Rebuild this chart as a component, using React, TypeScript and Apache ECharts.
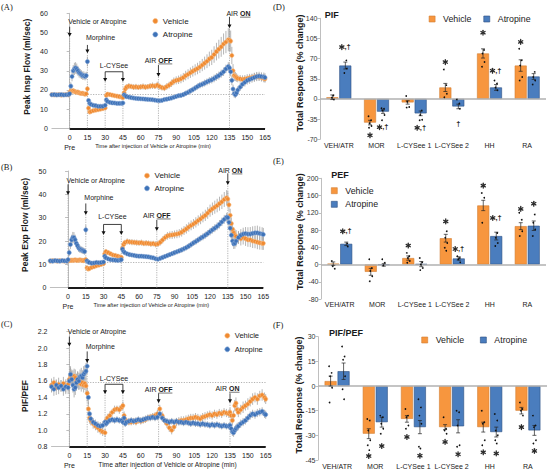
import React, { useEffect, useRef } from 'react';
import * as echarts from 'echarts';

// ---------- time-course data (minutes after injection) ----------
const minutes = [
  -15, -13, -11, -9, -7, -5, -3, -1,
  0, 1, 2, 3, 4, 5, 6, 7, 8, 9, 10, 11, 12, 13, 14, 15,
  16, 17, 18, 20, 22, 24, 26, 28, 30,
  31, 32, 34, 36, 38, 40, 42, 44, 45,
  46, 47, 48, 50, 52, 54, 56, 58, 60, 62, 64, 66, 68, 70, 72, 74, 76, 78, 80, 82, 84, 86, 88,
  90, 92, 94, 96, 98, 100, 102, 104, 106, 108, 110, 112, 114, 116, 118, 120, 122, 124, 126, 128, 130, 132, 134,
  135, 136, 137, 138, 139, 140, 141, 142,
  144, 146, 148, 150, 152, 154, 156, 158, 160, 162, 164, 165,
];

const pifVehicle = [
  17.6, 17.4, 17.5, 17.6, 17.3, 17.5, 17.6, 17.4,
  18.6, 19.5, 19.4, 19.6, 19.3, 19.0, 18.8, 18.9, 18.5, 18.3, 18.2, 18.3, 18.0, 17.8, 18.0, 20.6,
  10.5, 8.5, 8.8, 9.2, 9.5, 9.7, 10.0, 10.3, 10.6,
  17.2, 17.8, 17.6, 17.3, 17.0, 16.8, 16.5, 16.3, 16.0,
  18.5, 20.5, 21.5, 22.0, 21.8, 21.5, 21.6, 21.4, 21.6, 21.8, 21.5, 21.7, 22.0, 22.2, 22.0, 22.5, 21.8, 21.2, 21.0, 21.8, 22.5, 23.5, 24.5,
  25.0, 25.3, 25.8, 26.5, 27.5, 28.2, 29.0, 29.8, 30.5, 31.2, 32.0, 33.0, 34.0, 35.0, 36.2, 37.0, 38.5, 40.0, 41.3, 42.5, 44.0, 45.0, 46.2,
  46.0, 45.5, 38.0, 30.0, 27.5, 27.0, 26.5, 26.0,
  25.8, 25.5, 25.8, 26.0, 26.3, 26.5, 26.8, 27.0, 26.8, 26.5, 26.0, 25.8,
];
const pifVehicleSem = [
  0.8, 0.7, 0.9, 0.8, 0.7, 0.8, 0.9, 0.8,
  1.0, 1.2, 1.1, 1.2, 1.0, 1.1, 1.0, 1.2, 1.1, 1.0, 1.0, 1.1, 1.0, 0.9, 1.0, 1.6,
  1.2, 1.0, 0.9, 0.9, 0.8, 0.9, 0.8, 0.9, 0.9,
  1.0, 0.9, 0.9, 0.8, 0.9, 0.8, 0.9, 0.8, 0.9,
  1.4, 1.6, 1.5, 1.6, 1.4, 1.5, 1.6, 1.4, 1.5, 1.6, 1.5, 1.4, 1.6, 1.7, 1.5, 1.8, 1.6, 1.5, 1.6, 1.7, 1.8, 1.9, 2.0,
  2.1, 2.2, 2.3, 2.4, 2.5, 2.6, 2.7, 2.8, 2.9, 3.0, 3.1, 3.2, 3.4, 3.6, 3.8, 4.0, 4.3, 4.6, 4.9, 5.2, 5.5, 5.8, 6.0,
  6.0, 5.5, 4.5, 3.5, 2.8, 2.4, 2.2, 2.0,
  2.0, 2.1, 2.0, 2.2, 2.1, 2.0, 2.2, 2.1, 2.0, 2.1, 2.0, 2.0,
];
const pifAtropine = [
  17.5, 17.6, 17.4, 17.5, 17.6, 17.4, 17.5, 17.6,
  18.0, 22.0, 27.0, 30.0, 31.0, 31.5, 31.0, 30.0, 29.0, 28.5, 28.0, 27.5, 27.5, 27.0, 27.5, 34.8,
  14.5, 13.0, 12.5, 12.0, 11.8, 11.5, 11.5, 11.5, 12.0,
  14.8, 14.0, 13.5, 13.3, 13.2, 13.0, 13.0, 13.0, 13.2,
  17.5, 17.0, 16.5, 16.3, 16.0, 15.8, 15.6, 15.5, 15.4, 15.3, 15.2, 15.1, 15.0, 14.9, 14.7, 14.5, 14.4, 14.6, 15.0, 15.2, 15.5, 15.8, 16.2,
  16.6, 17.0, 17.2, 17.6, 18.2, 18.8, 19.5, 20.2, 21.0, 21.8, 22.5, 23.0, 23.6, 24.2, 24.8, 25.3, 26.0, 26.8, 27.5, 28.5, 29.5, 31.0, 32.2,
  31.5, 29.5, 25.0, 20.5, 18.0, 17.5, 18.5, 20.0,
  21.5, 23.0, 24.0, 25.0, 25.5, 26.0, 26.5, 27.0, 27.2, 27.0, 26.8, 26.5,
];
const pifAtropineSem = [
  0.7, 0.8, 0.7, 0.8, 0.7, 0.8, 0.7, 0.8,
  1.0, 2.0, 2.5, 3.0, 3.2, 3.0, 2.8, 2.6, 2.5, 2.4, 2.3, 2.2, 2.2, 2.0, 2.0, 2.5,
  1.2, 1.0, 0.9, 0.9, 0.8, 0.9, 0.8, 0.9, 0.9,
  1.0, 0.9, 0.8, 0.8, 0.8, 0.7, 0.8, 0.7, 0.8,
  1.0, 0.9, 0.9, 0.9, 0.8, 0.9, 0.8, 0.9, 0.8, 0.9, 0.8, 0.9, 0.8, 0.9, 0.8, 0.9, 0.8, 0.9, 0.9, 1.0, 1.0, 1.1, 1.1,
  1.2, 1.2, 1.3, 1.3, 1.4, 1.4, 1.5, 1.5, 1.6, 1.6, 1.7, 1.7, 1.8, 1.8, 1.9, 1.9, 2.0, 2.0, 2.1, 2.1, 2.2, 2.2, 2.3,
  2.3, 2.4, 2.5, 2.3, 2.0, 1.8, 1.8, 1.9,
  2.0, 2.1, 2.2, 2.2, 2.3, 2.2, 2.3, 2.4, 2.3, 2.2, 2.3, 2.2,
];

const pefVehicle = [
  11.4, 11.6, 11.5, 11.4, 11.6, 11.5, 11.4, 11.5,
  11.5, 11.6, 11.7, 11.8, 11.7, 11.8, 11.9, 11.8, 11.7, 11.8, 11.9, 11.8, 11.7, 11.6, 11.8, 12.0,
  8.5, 8.0, 8.2, 8.7, 9.0, 9.4, 9.7, 10.0, 10.3,
  14.5, 15.5, 15.0, 14.5, 14.0, 13.8, 13.5, 13.2, 13.0,
  17.0, 18.5, 19.3, 19.8, 19.6, 19.5, 19.4, 19.3, 19.2, 19.3, 19.0, 19.1, 19.0, 18.8, 18.9, 18.6, 18.8, 19.5, 20.5, 21.5, 22.2, 22.5, 22.6,
  22.8, 23.0, 23.3, 23.8, 24.5, 25.2, 26.0, 26.7, 27.3, 28.0, 28.8, 29.5, 30.3, 31.0, 32.0, 33.0, 33.8, 34.5, 35.2, 36.0, 36.8, 37.8, 38.5,
  38.0, 35.5, 31.0, 27.5, 25.0, 23.5, 22.5, 22.0,
  21.5, 21.0, 21.5, 21.0, 20.5, 20.5, 20.0, 19.8, 19.5, 19.2, 19.0, 19.0,
];
const pefVehicleSem = [
  0.6, 0.7, 0.6, 0.6, 0.7, 0.6, 0.6, 0.7,
  0.7, 0.8, 0.7, 0.8, 0.7, 0.8, 0.7, 0.8, 0.7, 0.8, 0.7, 0.8, 0.7, 0.8, 0.7, 0.9,
  0.9, 0.8, 0.8, 0.7, 0.7, 0.8, 0.7, 0.8, 0.8,
  1.0, 1.1, 1.0, 0.9, 0.9, 0.8, 0.9, 0.8, 0.9,
  1.2, 1.3, 1.2, 1.3, 1.2, 1.3, 1.2, 1.3, 1.2, 1.3, 1.2, 1.3, 1.2, 1.3, 1.2, 1.3, 1.4, 1.4, 1.5, 1.5, 1.6, 1.6, 1.7,
  1.7, 1.8, 1.8, 1.9, 1.9, 2.0, 2.0, 2.1, 2.1, 2.2, 2.2, 2.3, 2.3, 2.4, 2.5, 2.6, 2.7, 2.8, 2.9, 3.0, 3.1, 3.2, 3.3,
  3.3, 3.0, 2.8, 2.6, 2.5, 2.5, 2.6, 2.7,
  2.8, 2.9, 3.0, 3.1, 3.0, 3.1, 3.0, 2.9, 3.0, 2.9, 2.8, 2.8,
];
const pefAtropine = [
  11.5, 11.4, 11.6, 11.5, 11.4, 11.6, 11.5, 11.4,
  12.0, 15.0, 18.5, 20.5, 21.5, 21.5, 20.5, 19.0, 18.0, 17.0, 16.5, 16.3, 16.0, 15.8, 15.5, 24.8,
  11.5, 11.0, 10.8, 10.5, 10.6, 10.8, 10.7, 10.8, 11.0,
  13.5, 12.8, 12.3, 12.0, 11.9, 11.8, 11.7, 11.8, 12.0,
  16.5, 15.5, 15.0, 14.5, 14.2, 14.0, 13.8, 13.6, 13.5, 13.5, 13.4, 13.3, 13.2, 13.0, 12.8, 12.4, 12.2, 12.6, 13.0, 13.4, 13.8, 14.2, 14.6,
  15.0, 15.4, 15.8, 16.2, 16.7, 17.2, 17.8, 18.5, 19.2, 19.8, 20.5, 21.2, 21.8, 22.5, 23.2, 24.0, 24.8, 25.5, 26.3, 27.2, 28.2, 29.3, 30.2,
  30.0, 28.0, 25.5, 22.5, 20.0, 18.8, 19.0, 20.0,
  21.5, 22.5, 23.0, 23.2, 23.0, 23.0, 23.3, 23.5, 23.5, 23.2, 23.0, 22.8,
];
const pefAtropineSem = [
  0.6, 0.6, 0.7, 0.6, 0.6, 0.7, 0.6, 0.6,
  0.8, 1.5, 2.0, 2.2, 2.4, 2.3, 2.2, 2.0, 1.8, 1.7, 1.6, 1.5, 1.5, 1.4, 1.4, 2.0,
  0.9, 0.8, 0.8, 0.7, 0.7, 0.7, 0.7, 0.7, 0.8,
  0.9, 0.8, 0.8, 0.7, 0.7, 0.7, 0.7, 0.7, 0.8,
  1.0, 0.9, 0.9, 0.8, 0.8, 0.8, 0.8, 0.8, 0.8, 0.8, 0.8, 0.8, 0.8, 0.8, 0.8, 0.8, 0.8, 0.9, 0.9, 0.9, 1.0, 1.0, 1.0,
  1.1, 1.1, 1.1, 1.2, 1.2, 1.2, 1.3, 1.3, 1.3, 1.4, 1.4, 1.4, 1.5, 1.5, 1.5, 1.6, 1.6, 1.7, 1.7, 1.8, 1.8, 1.9, 1.9,
  1.9, 1.9, 2.0, 2.1, 2.2, 2.2, 2.3, 2.4,
  2.5, 2.6, 2.7, 2.8, 2.9, 3.0, 3.0, 3.0, 3.1, 3.0, 2.9, 2.8,
];

const ratioVehicle = [
  1.55, 1.58, 1.52, 1.56, 1.54, 1.57, 1.53, 1.56,
  1.62, 1.66, 1.65, 1.63, 1.66, 1.64, 1.60, 1.62, 1.58, 1.60, 1.56, 1.58, 1.55, 1.57, 1.54, 1.45,
  1.26, 1.15, 1.12, 1.08, 1.05, 1.03, 1.00, 0.98, 0.97,
  1.12, 1.15, 1.18, 1.22, 1.25, 1.26, 1.25, 1.28, 1.30,
  1.18, 1.13, 1.11, 1.10, 1.10, 1.11, 1.10, 1.12, 1.11, 1.12, 1.13, 1.15, 1.16, 1.17, 1.18, 1.20, 1.26, 1.18, 1.12, 1.08, 1.03, 1.00, 1.04,
  1.10, 1.11, 1.12, 1.12, 1.13, 1.14, 1.15, 1.15, 1.16, 1.15, 1.14, 1.16, 1.17, 1.18, 1.19, 1.18, 1.20, 1.19, 1.21, 1.20, 1.22, 1.21, 1.20,
  1.22, 1.18, 1.12, 1.18, 1.30, 1.33, 1.25, 1.22,
  1.25, 1.28, 1.30, 1.32, 1.35, 1.38, 1.40, 1.38, 1.42, 1.43, 1.40, 1.38,
];
const ratioVehicleSem = [
  0.08, 0.07, 0.09, 0.08, 0.07, 0.08, 0.09, 0.08,
  0.09, 0.10, 0.09, 0.10, 0.09, 0.10, 0.09, 0.10, 0.09, 0.10, 0.09, 0.08, 0.09, 0.08, 0.09, 0.10,
  0.08, 0.07, 0.06, 0.06, 0.05, 0.06, 0.05, 0.05, 0.05,
  0.05, 0.05, 0.05, 0.04, 0.05, 0.04, 0.05, 0.04, 0.05,
  0.05, 0.04, 0.04, 0.04, 0.04, 0.04, 0.04, 0.04, 0.04, 0.04, 0.04, 0.04, 0.04, 0.04, 0.04, 0.05, 0.05, 0.05, 0.05, 0.05, 0.05, 0.05, 0.05,
  0.05, 0.05, 0.05, 0.05, 0.05, 0.05, 0.05, 0.05, 0.05, 0.05, 0.05, 0.05, 0.05, 0.05, 0.05, 0.05, 0.05, 0.05, 0.05, 0.05, 0.05, 0.05, 0.05,
  0.05, 0.05, 0.06, 0.06, 0.07, 0.07, 0.06, 0.06,
  0.06, 0.07, 0.06, 0.07, 0.06, 0.07, 0.06, 0.07, 0.06, 0.07, 0.06, 0.06,
];
const ratioAtropine = [
  1.53, 1.50, 1.55, 1.52, 1.54, 1.50, 1.53, 1.52,
  1.60, 1.68, 1.62, 1.55, 1.50, 1.52, 1.58, 1.62, 1.60, 1.65, 1.66, 1.64, 1.68, 1.70, 1.72, 1.78,
  1.40, 1.20, 1.14, 1.10, 1.08, 1.06, 1.05, 1.06, 1.10,
  1.08, 1.10, 1.12, 1.13, 1.12, 1.13, 1.12, 1.12, 1.10,
  1.15, 1.08, 1.10, 1.11, 1.12, 1.11, 1.12, 1.13, 1.12, 1.13, 1.14, 1.15, 1.15, 1.16, 1.15, 1.16, 1.20, 1.15, 1.12, 1.11, 1.10, 1.11, 1.10,
  1.11, 1.10, 1.10, 1.09, 1.10, 1.09, 1.08, 1.09, 1.08, 1.08, 1.07, 1.08, 1.07, 1.07, 1.06, 1.07, 1.06, 1.07, 1.06, 1.05, 1.06, 1.05, 1.05,
  1.06, 1.02, 0.98, 0.97, 1.00, 1.02, 1.04, 1.05,
  1.08, 1.10, 1.12, 1.15, 1.18, 1.20, 1.19, 1.21, 1.22, 1.23, 1.20, 1.19,
];
const ratioAtropineSem = [
  0.07, 0.08, 0.07, 0.08, 0.07, 0.08, 0.07, 0.08,
  0.09, 0.10, 0.10, 0.09, 0.10, 0.09, 0.10, 0.09, 0.10, 0.09, 0.10, 0.09, 0.10, 0.09, 0.10, 0.09,
  0.08, 0.07, 0.06, 0.05, 0.05, 0.05, 0.05, 0.05, 0.05,
  0.04, 0.04, 0.04, 0.04, 0.04, 0.04, 0.04, 0.04, 0.04,
  0.04, 0.04, 0.04, 0.04, 0.04, 0.04, 0.04, 0.04, 0.04, 0.04, 0.04, 0.04, 0.04, 0.04, 0.04, 0.04, 0.04, 0.04, 0.04, 0.04, 0.04, 0.04, 0.04,
  0.04, 0.04, 0.04, 0.04, 0.04, 0.04, 0.04, 0.04, 0.04, 0.04, 0.04, 0.04, 0.04, 0.04, 0.04, 0.04, 0.04, 0.04, 0.04, 0.04, 0.04, 0.04, 0.04,
  0.04, 0.05, 0.05, 0.05, 0.05, 0.05, 0.05, 0.05,
  0.05, 0.05, 0.05, 0.05, 0.05, 0.05, 0.05, 0.05, 0.05, 0.05, 0.05, 0.05,
];

// ---------- events ----------
const eventLabels = ['Vehicle or Atropine', 'Morphine', 'L-CYSee', 'AIR OFF', 'AIR ON'];
const eventMinutes = [0, 15, 30, 75, 135];
const lcyseeEndMinute = 45;
// per panel: [label height, arrow start, arrow tip] in data units
const eventHeightsPif = [[55.6, 53.0, 47.8], [47.5, 43.5, 39.1], [32.7, 29.5, 24.3], [35.6, 33.0, 26.9], [60.0, 58.2, 52.2]];
const eventHeightsPef = [[46.1, 44.3, 39.7], [38.7, 36.1, 31.1], [30.4, 27.1, 22.6], [31.1, 29.0, 24.3], [50.4, 49.0, 44.0]];
const eventHeightsRatio = [[2.2, 2.14, 2.02], [2.02, 1.96, 1.82], [1.63, 1.56, 1.44], [1.5, 1.45, 1.33], [1.51, 1.45, 1.33]];
const baselinePif = 17.9;
const baselinePef = 11.1;
const baselineRatio = 1.58;

// ---------- total responses ----------
const responseCategories = ['VEH/ATR', 'MOR', 'L-CYSee 1', 'L-CYSee 2', 'HH', 'RA'];

const pifTotalVehicle = [3, -41, -6, 20, 79, 58];
const pifTotalVehicleSem = [4, 4, 3, 7, 8, 10];
const pifTotalAtropine = [58, -22, -25, -13, 20, 39];
const pifTotalAtropineSem = [6, 3, 4, 4, 5, 5];
const pifVehicleRats = [[15, 6, 2, -1, -13], [-30, -37, -42, -47, -50], [5, -2, -5, -14, -15], [51, 24, 18, 9, 3], [102, 85, 79, 64, 56], [87, 67, 58, 38, 32]];
const pifAtropineRats = [[71, 67, 60, 53, 45], [-16, -17, -20, -28, -37], [-13, -20, -28, -36, -37], [-1, -8, -13, -17, -23], [32, 27, 20, 15, 8], [60, 47, 38, 32, 25]];
// [category, group (0 vehicle / 1 atropine), value, text]
const pifMarks = [[0, 1, 90, '✱,†'], [1, 0, -63, '✱'], [1, 1, -49, '✱,†'], [2, 1, -50, '✱,†'], [3, 0, 64, '✱'], [3, 1, -42, '†'], [4, 0, 115, '✱'], [4, 1, 49, '✱,†'], [5, 0, 99, '✱']];

const pefTotalVehicle = [2, -17, 15, 61, 137, 89];
const pefTotalVehicleSem = [4, 8, 5, 9, 12, 8];
const pefTotalAtropine = [48, -1, 1, 14, 66, 90];
const pefTotalAtropineSem = [4, 3, 6, 4, 9, 11];
const pefVehicleRats = [[8, 2, -4, -10], [12, -8, -15, -27, -39], [27, 19, 15, 8, 4], [93, 77, 62, 50, 39, 32], [166, 155, 135, 128, 97], [120, 104, 93, 77, 66]];
const pefAtropineRats = [[58, 49, 44, 42], [12, 4, -2, -5, -12], [15, 5, 0, -8, -13], [19, 15, 12, 5], [93, 73, 62, 50, 43], [128, 116, 97, 81, 66]];
const pefMarks = [[0, 1, 77, '✱,†'], [2, 0, 44, '✱'], [3, 0, 100, '✱'], [3, 1, 36, '✱,†'], [4, 0, 183, '✱'], [4, 1, 108, '✱,†'], [5, 0, 129, '✱'], [5, 1, 141, '✱']];

const ratioTotalVehicle = [3, -29, -20, -25, -25, -15];
const ratioTotalVehicleSem = [3, 3, 2, 1.5, 3, 2];
const ratioTotalAtropine = [9, -22, -25, -24.5, -28, -27];
const ratioTotalAtropineSem = [5, 3, 4, 4, 3, 3];
const ratioVehicleRats = [[12, 8, 6, -1, -10], [-20, -21, -27, -33, -36, -39], [-14, -18, -19, -24, -26], [-19, -26, -27, -29], [-15, -22, -23, -33, -36], [-10, -14, -15, -18]];
const ratioAtropineRats = [[24, 18, 16, 6, -2, -8], [-18, -19, -23, -26, -29], [-8, -13, -18, -23, -37, -38], [-15, -16, -24, -36, -37], [-17, -21, -27, -30, -33, -35], [-18, -24, -25, -33, -35]];
const ratioMarks = [[1, 0, -42.6, '✱'], [1, 1, -36.5, '✱'], [2, 0, -31, '✱'], [2, 1, -42.4, '✱'], [3, 0, -34, '✱'], [3, 1, -41.5, '✱'], [4, 0, -40.3, '✱'], [4, 1, -41, '✱'], [5, 0, -25, '✱'], [5, 1, -39.5, '✱']];

// ---------- styling ----------
const FONT = "'Liberation Sans', Arial, Helvetica, sans-serif";
const SERIF = "'Liberation Serif', 'Times New Roman', serif";
const ORANGE = '#F08A30';
const ORANGE_EDGE = '#F7BE88';
const BLUE = '#3D72B8';
const BLUE_EDGE = '#8AAAD6';
const BAR_ORANGE = '#F7963E';
const BAR_ORANGE_EDGE = '#D27E33';
const BAR_BLUE = '#4A7DBE';
const BAR_BLUE_EDGE = '#2B4F82';
const TEXT = '#1a1a1a';
const AXIS_GREY = '#bfbfbf';
const JITTER = [-1.5, 1.0, -0.5, 1.5, -1.0, 0.5];
const BAR_OFFSET = 6.5;

let measureCtx: CanvasRenderingContext2D | null = null;
function textWidth(t: string, size: number, weight: string) {
  if (!measureCtx) measureCtx = document.createElement('canvas').getContext('2d');
  if (!measureCtx) return t.length * size * 0.55;
  measureCtx.font = `${weight} ${size}px ${FONT}`;
  return measureCtx.measureText(t).width;
}

function labelEls(label: string, x: number, y: number, align: string, size: number) {
  const m = label.match(/^(AIR )(ON|OFF)$/);
  const base = { fontSize: size, fontFamily: FONT, fill: TEXT, verticalAlign: 'middle' };
  if (!m) return [{ type: 'text', x, y, style: { ...base, text: label, align } }];
  const w1 = textWidth(m[1], size, 'normal');
  const w2 = textWidth(m[2], size, 'bold');
  const x0 = align === 'center' ? x - (w1 + w2) / 2 : x;
  return [
    { type: 'text', x: x0, y, style: { ...base, text: m[1], align: 'left' } },
    { type: 'text', x: x0 + w1, y, style: { ...base, text: m[2], fontWeight: 'bold', align: 'left' } },
    { type: 'line', shape: { x1: x0 + w1, y1: y + size * 0.55, x2: x0 + w1 + w2, y2: y + size * 0.55 }, style: { stroke: TEXT, lineWidth: 0.6 } },
  ];
}

function whisker(g: number, vals: number[], sems: number[]) {
  return {
    type: 'custom', xAxisIndex: g, yAxisIndex: g, silent: true, z: 1,
    data: minutes.map((t, i) => [t, vals[i], sems[i]]),
    encode: { x: 0, y: 1 },
    renderItem: (params: any, api: any) => {
      const t = api.value(0), v = api.value(1), s = api.value(2);
      const a = api.coord([t, v - s]);
      const b = api.coord([t, v + s]);
      return { type: 'line', shape: { x1: a[0], y1: a[1], x2: b[0], y2: b[1] }, style: { stroke: '#a3a3a3', lineWidth: 0.8 } };
    },
  };
}

function annotations(g: number, heights: number[][], yMin: number, onShift: number, size: number) {
  return {
    type: 'custom', xAxisIndex: g, yAxisIndex: g, silent: true, z: 2, clip: false,
    data: eventMinutes.map((t, i) => [t, heights[i][0], heights[i][1], heights[i][2]]),
    encode: { x: 0, y: 1 },
    renderItem: (params: any, api: any) => {
      const i = params.dataIndex;
      const t = api.value(0);
      const p = api.coord([t, api.value(1)]);
      const top = api.coord([t, api.value(2)])[1];
      const tip = api.coord([t, api.value(3)])[1];
      const base = api.coord([t, yMin])[1];
      const children: any[] = [];
      const arrowAt = (x: number) => {
        children.push({ type: 'line', shape: { x1: x, y1: base, x2: x, y2: tip }, style: { stroke: '#a0a0a0', lineWidth: 0.8, lineDash: [1.2, 1.2] } });
        children.push({ type: 'line', shape: { x1: x, y1: top, x2: x, y2: tip - 3 }, style: { stroke: '#111', lineWidth: 0.8 } });
        children.push({ type: 'polygon', shape: { points: [[x - 2, tip - 3.8], [x + 2, tip - 3.8], [x, tip]] }, style: { fill: '#111' } });
      };
      if (i === 2) {
        const x2 = api.coord([lcyseeEndMinute, api.value(2)])[0];
        arrowAt(p[0]);
        arrowAt(x2);
        children.push({ type: 'line', shape: { x1: p[0], y1: top, x2: x2, y2: top }, style: { stroke: '#111', lineWidth: 0.8 } });
        children.push(...labelEls(eventLabels[i], (p[0] + x2) / 2, p[1], 'center', size));
      } else {
        arrowAt(p[0]);
        if (i < 2) children.push(...labelEls(eventLabels[i], p[0] - 1.5, p[1], 'left', size));
        else if (i === 3) children.push(...labelEls(eventLabels[i], p[0], p[1], 'center', size));
        else children.push(...labelEls(eventLabels[i], p[0] + onShift, p[1], 'center', size));
      }
      return { type: 'group', children };
    },
  };
}

function timeSeries(g: number, veh: number[], vehSem: number[], atr: number[], atrSem: number[], heights: number[][], baseline: number, yMin: number, onShift: number, annSize: number) {
  return [
    whisker(g, veh, vehSem),
    whisker(g, atr, atrSem),
    {
      type: 'scatter', name: 'Vehicle', xAxisIndex: g, yAxisIndex: g, z: 3,
      data: minutes.map((t, i) => [t, veh[i]]),
      symbol: 'circle', symbolSize: 4.2,
      itemStyle: { color: ORANGE, borderColor: ORANGE_EDGE, borderWidth: 0.6, opacity: 1 },
      markLine: {
        silent: true, z: 2, symbol: ['none', 'none'], label: { show: false }, animation: false,
        data: [
          [{ coord: [0, baseline], lineStyle: { type: [1.2, 1.4], color: '#a0a0a0', width: 0.8 } }, { coord: [165, baseline] }],
          [{ coord: [0, yMin], lineStyle: { type: 'solid', color: '#1a1a1a', width: 2.2 } }, { coord: [165, yMin] }],
        ],
      },
    },
    {
      type: 'scatter', name: 'Atropine', xAxisIndex: g, yAxisIndex: g, z: 4,
      data: minutes.map((t, i) => [t, atr[i]]),
      symbol: 'circle', symbolSize: 4.2,
      itemStyle: { color: BLUE, borderColor: BLUE_EDGE, borderWidth: 0.6, opacity: 1 },
    },
    annotations(g, heights, yMin, onShift, annSize),
  ];
}

function barErrors(g: number, vals: number[], sems: number[], off: number) {
  return {
    type: 'custom', xAxisIndex: g, yAxisIndex: g, silent: true, z: 4,
    data: vals.map((v, i) => [i, v, sems[i]]),
    encode: { x: 0, y: 1 },
    renderItem: (params: any, api: any) => {
      const i = api.value(0), v = api.value(1), s = api.value(2);
      const x = api.coord([i, v])[0] + off;
      const y1 = api.coord([i, v + s])[1];
      const y2 = api.coord([i, v - s])[1];
      const st = { stroke: '#222', lineWidth: 0.7 };
      return {
        type: 'group', children: [
          { type: 'line', shape: { x1: x, y1, x2: x, y2 }, style: st },
          { type: 'line', shape: { x1: x - 2, y1, x2: x + 2, y2: y1 }, style: st },
          { type: 'line', shape: { x1: x - 2, y1: y2, x2: x + 2, y2 }, style: st },
        ],
      };
    },
  };
}

function barDots(g: number, rats: number[][], off: number) {
  const data: number[][] = [];
  rats.forEach((arr, i) => arr.forEach((v, k) => data.push([i, v, k])));
  return {
    type: 'custom', xAxisIndex: g, yAxisIndex: g, silent: true, z: 5,
    data, encode: { x: 0, y: 1 },
    renderItem: (params: any, api: any) => {
      const i = api.value(0), v = api.value(1), k = api.value(2);
      const c = api.coord([i, v]);
      return { type: 'circle', shape: { cx: c[0] + off + JITTER[k % JITTER.length], cy: c[1], r: 0.85 }, style: { fill: '#111' } };
    },
  };
}

// six-spoke heavy asterisk drawn with lines
function starEls(cx: number, cy: number, r: number) {
  const els: any[] = [];
  for (let a = 0; a < 3; a++) {
    const ang = Math.PI / 2 + (a * Math.PI) / 3;
    const dx = Math.cos(ang) * r, dy = Math.sin(ang) * r;
    els.push({ type: 'line', shape: { x1: cx - dx, y1: cy - dy, x2: cx + dx, y2: cy + dy }, style: { stroke: '#2a2a2a', lineWidth: 1.3, lineCap: 'round' } });
  }
  return els;
}

function barMarks(g: number, marks: any[]) {
  return {
    type: 'custom', xAxisIndex: g, yAxisIndex: g, silent: true, z: 6, clip: false,
    data: marks.map((m) => [m[0], m[2], m[1]]), encode: { x: 0, y: 1 },
    renderItem: (params: any, api: any) => {
      const i = api.value(0), y = api.value(1), grp = api.value(2);
      const c = api.coord([i, y]);
      const cx = c[0] + (grp ? BAR_OFFSET : -BAR_OFFSET);
      const label = String(marks[params.dataIndex][3]);
      const hasStar = label.startsWith('✱');
      const rest = hasStar ? label.slice(1) : label;
      const children: any[] = [];
      const tStyle = { fontSize: 7.5, fontFamily: FONT, fontWeight: 'bold', fill: '#2a2a2a', verticalAlign: 'middle' };
      if (hasStar && rest) {
        children.push(...starEls(cx - 3.5, c[1], 2.4));
        children.push({ type: 'text', x: cx - 0.8, y: c[1] - 0.5, style: { ...tStyle, text: rest, align: 'left' } });
      } else if (hasStar) {
        children.push(...starEls(cx, c[1], 2.4));
      } else {
        children.push({ type: 'text', x: cx, y: c[1], style: { ...tStyle, text: rest, align: 'center' } });
      }
      return { type: 'group', children };
    },
  };
}

function barSeries(g: number, veh: number[], vehSem: number[], atr: number[], atrSem: number[], vehRats: number[][], atrRats: number[][], marks: any[]) {
  return [
    {
      type: 'bar', name: 'Vehicle', xAxisIndex: g, yAxisIndex: g, data: veh, barWidth: 12, barGap: '8%', z: 2,
      itemStyle: { color: BAR_ORANGE, borderColor: BAR_ORANGE_EDGE, borderWidth: 0.6 },
      markLine: { silent: true, z: 3, symbol: ['none', 'none'], label: { show: false }, animation: false, data: [{ yAxis: 0 }], lineStyle: { type: 'solid', color: '#b0b0b0', width: 1.6 } },
    },
    {
      type: 'bar', name: 'Atropine', xAxisIndex: g, yAxisIndex: g, data: atr, barWidth: 12, barGap: '8%', z: 2,
      itemStyle: { color: BAR_BLUE, borderColor: BAR_BLUE_EDGE, borderWidth: 0.6 },
    },
    barErrors(g, veh, vehSem, -BAR_OFFSET),
    barErrors(g, atr, atrSem, BAR_OFFSET),
    barDots(g, vehRats, -BAR_OFFSET),
    barDots(g, atrRats, BAR_OFFSET),
    barMarks(g, marks),
  ];
}

function timeXAxis(g: number) {
  return {
    type: 'value', gridIndex: g, min: -15, max: 165, interval: 15,
    axisLine: { show: true, lineStyle: { color: AXIS_GREY, width: 1 } },
    axisTick: { show: false }, splitLine: { show: false },
    axisLabel: {
      fontSize: 7, color: TEXT, margin: 4, lineHeight: 10, fontFamily: FONT,
      formatter: (v: number) => (v < 0 ? '' : v === 0 ? '0\nPre' : String(v)),
    },
  };
}
function timeYAxis(g: number, min: number, max: number, interval: number, decimals: number) {
  return {
    type: 'value', gridIndex: g, min, max, interval,
    axisLine: { show: true, lineStyle: { color: AXIS_GREY, width: 1 } },
    axisTick: { show: true, length: 3, lineStyle: { color: AXIS_GREY } },
    splitLine: { show: false },
    axisLabel: { fontSize: 7, color: TEXT, margin: 4, fontFamily: FONT, formatter: (v: number) => v.toFixed(decimals) },
  };
}
function catXAxis(g: number, margin: number) {
  return {
    type: 'category', gridIndex: g, data: responseCategories,
    axisLine: { show: false }, axisTick: { show: false }, splitLine: { show: false },
    axisLabel: { fontSize: 7, color: TEXT, margin, fontFamily: FONT, interval: 0 },
  };
}
function barYAxis(g: number, min: number, max: number, interval: number) {
  return {
    type: 'value', gridIndex: g, min, max, interval,
    axisLine: { show: true, lineStyle: { color: AXIS_GREY, width: 1 } },
    axisTick: { show: true, length: 2.5, lineStyle: { color: AXIS_GREY } },
    splitLine: { show: false },
    axisLabel: { fontSize: 7, color: '#333', margin: 2.5, fontFamily: FONT },
  };
}

function txt(x: number, y: number, text: string, size: number, opts: any = {}) {
  return {
    type: 'text', x, y, silent: true, rotation: opts.rot || 0,
    style: {
      text, fontSize: size, fontFamily: opts.family || FONT, fontWeight: opts.weight || 'normal',
      fill: opts.fill || TEXT, align: opts.align || 'center', verticalAlign: 'middle',
    },
  };
}

function legendFor(left: number, top: number, orient: string, icon: string, size: number, fontSize: number, lineHeight: number, itemGap: number, pad: number, bars: boolean) {
  return {
    left, top, orient, icon, itemWidth: size, itemHeight: size, itemGap, padding: 0, selectedMode: false,
    textStyle: { fontSize, lineHeight, color: TEXT, fontFamily: FONT, padding: [0, 0, 0, pad] },
    data: [
      { name: 'Vehicle', itemStyle: bars ? { color: BAR_ORANGE, borderColor: BAR_ORANGE_EDGE, borderWidth: 0.6 } : { color: ORANGE, borderColor: ORANGE_EDGE, borderWidth: 0.6 } },
      { name: 'Atropine', itemStyle: bars ? { color: BAR_BLUE, borderColor: BAR_BLUE_EDGE, borderWidth: 0.6 } : { color: BLUE, borderColor: BLUE_EDGE, borderWidth: 0.6 } },
    ],
  };
}

function buildOption() {
  const R = Math.PI / 2;
  return {
    backgroundColor: '#ffffff',
    animation: false,
    textStyle: { fontFamily: FONT },
    grid: [
      { left: 51.9, top: 13.3, width: 213.1, height: 115, outerBoundsMode: 'none' },
      { left: 50.3, top: 171, width: 213, height: 116.7, outerBoundsMode: 'none' },
      { left: 51.5, top: 331.7, width: 214.2, height: 115, outerBoundsMode: 'none' },
      { left: 320, top: 18.3, width: 226, height: 121, outerBoundsMode: 'none' },
      { left: 321, top: 178.3, width: 225, height: 120.7, outerBoundsMode: 'none' },
      { left: 318, top: 336.7, width: 229, height: 123.3, outerBoundsMode: 'none' },
    ],
    xAxis: [timeXAxis(0), timeXAxis(1), timeXAxis(2), catXAxis(3, 3), catXAxis(4, 2), catXAxis(5, 2.5)],
    yAxis: [
      timeYAxis(0, 0, 60, 10, 0),
      timeYAxis(1, 0, 50, 10, 0),
      timeYAxis(2, 0.8, 2.2, 0.2, 1),
      barYAxis(3, -70, 140, 35),
      barYAxis(4, -80, 200, 40),
      barYAxis(5, -45, 30, 15),
    ],
    legend: [
      legendFor(152.5, 16, 'vertical', 'circle', 5, 8, 10, 3.5, 0, false),
      legendFor(144.2, 170.7, 'vertical', 'circle', 5, 8, 10, 2.6, 0, false),
      legendFor(224.5, 330.7, 'vertical', 'circle', 5, 7.5, 10, 3.6, 0, false),
      legendFor(428.8, 13.5, 'horizontal', 'rect', 6, 8.8, 11, 12, 3, true),
      legendFor(331, 185.2, 'vertical', 'rect', 6, 8.8, 11, 2.6, 3, true),
      legendFor(421.4, 334.5, 'horizontal', 'rect', 6, 8.8, 11, 16, 3, true),
    ],
    graphic: [
      txt(1, 7, '(A)', 8.5, { family: SERIF, align: 'left' }),
      txt(1, 166.7, '(B)', 8.5, { family: SERIF, align: 'left' }),
      txt(1, 324, '(C)', 8.5, { family: SERIF, align: 'left' }),
      txt(273, 7, '(D)', 8.5, { family: SERIF, align: 'left' }),
      txt(273, 161, '(E)', 8.5, { family: SERIF, align: 'left' }),
      txt(273, 325, '(F)', 8.5, { family: SERIF, align: 'left' }),
      txt(27, 66.7, 'Peak Insp Flow (ml/sec)', 8.5, { weight: 'bold', rot: R }),
      txt(25, 225, 'Peak Exp Flow (ml/sec)', 8.5, { weight: 'bold', rot: R }),
      txt(25, 396, 'PIF/PEF', 8.5, { weight: 'bold', rot: R }),
      txt(300, 73, 'Total Response (% change)', 9, { weight: 'bold', rot: R }),
      txt(300, 231.7, 'Total Response (% change)', 9, { weight: 'bold', rot: R }),
      txt(299.3, 395, 'Total Response (% change)', 9, { weight: 'bold', rot: R }),
      txt(153, 146, 'Time after injection of Vehicle or Atropine (min)', 5.6),
      txt(151.3, 304.7, 'Time after injection of Vehicle or Atropine (min)', 5.6),
      txt(167.5, 464, 'Time after injection of Vehicle or Atropine (min)', 6.7),
      txt(331.7, 15, 'PIF', 9, { weight: 'bold' }),
      txt(340, 175, 'PEF', 9, { weight: 'bold' }),
      txt(346, 332.7, 'PIF/PEF', 9, { weight: 'bold' }),
    ],
    series: [
      ...timeSeries(0, pifVehicle, pifVehicleSem, pifAtropine, pifAtropineSem, eventHeightsPif, baselinePif, 0, 9, 7),
      ...timeSeries(1, pefVehicle, pefVehicleSem, pefAtropine, pefAtropineSem, eventHeightsPef, baselinePef, 0, 2.5, 7),
      ...timeSeries(2, ratioVehicle, ratioVehicleSem, ratioAtropine, ratioAtropineSem, eventHeightsRatio, baselineRatio, 0.8, -2.5, 7),
      ...barSeries(3, pifTotalVehicle, pifTotalVehicleSem, pifTotalAtropine, pifTotalAtropineSem, pifVehicleRats, pifAtropineRats, pifMarks),
      ...barSeries(4, pefTotalVehicle, pefTotalVehicleSem, pefTotalAtropine, pefTotalAtropineSem, pefVehicleRats, pefAtropineRats, pefMarks),
      ...barSeries(5, ratioTotalVehicle, ratioTotalVehicleSem, ratioTotalAtropine, ratioTotalAtropineSem, ratioVehicleRats, ratioAtropineRats, ratioMarks),
    ],
  };
}

export default function App() {
  const ref = useRef<HTMLDivElement>(null);
  useEffect(() => {
    if (!ref.current) return;
    const chart = echarts.init(ref.current, null, { renderer: 'svg' });
    chart.setOption(buildOption() as any);
    return () => chart.dispose();
  }, []);
  return <div ref={ref} style={{ position: 'absolute', left: 0, top: 0, width: 550, height: 471, background: '#fff' }} />;
}
